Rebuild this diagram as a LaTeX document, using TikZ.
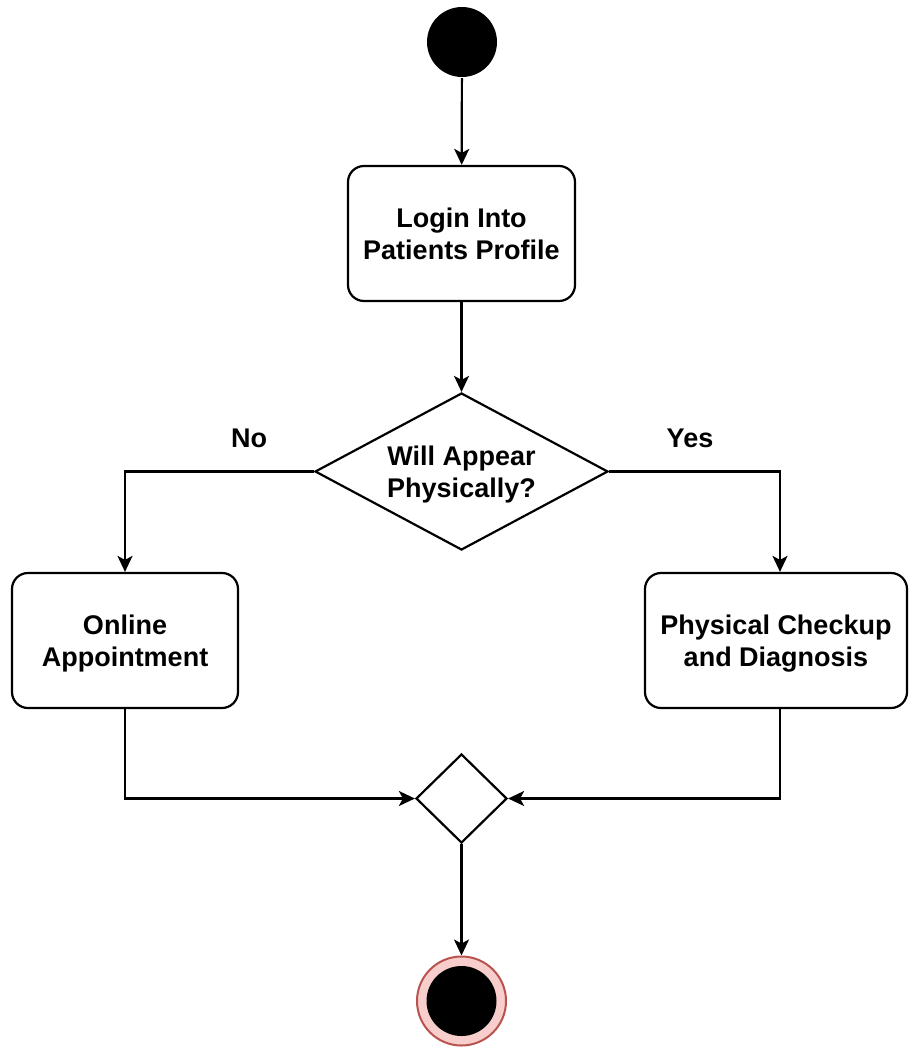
\documentclass[tikz,border=0pt]{standalone}
\usepackage{fontspec}
\setmainfont{Liberation Sans}
\usetikzlibrary{shapes.geometric,arrows.meta}
\definecolor{endfill}{HTML}{F8CECC}
\definecolor{endline}{HTML}{B85450}
\begin{document}
\begin{tikzpicture}[x=1pt,y=-1pt,
  line width=2.2pt,
  font=\fontsize{27}{32}\selectfont\bfseries,
  flow/.style={-{Stealth[length=16pt,width=15pt,inset=4pt]}},
  activity/.style={draw,rounded corners=16pt,align=center,inner sep=0pt,text depth=0pt},
  decision/.style={draw,diamond,inner sep=0pt}]
\useasboundingbox (0,0) rectangle (908,1047);
% initial node
\node[circle,fill=black,minimum size=70pt,inner sep=0pt] (start) at (462,42) {};
% activities
\node[activity,minimum width=227pt,minimum height=135pt] (login) at (461.5,233.5) {Login Into\\Patients Profile};
\node[decision,minimum width=293pt,minimum height=157pt,
      label={[align=center,text depth=0pt]center:Will Appear\\Physically?}] (ask) at (461.5,471.5) {};
\node[activity,minimum width=226pt,minimum height=135pt] (online) at (125,640.5) {Online\\Appointment};
\node[activity,minimum width=262pt,minimum height=135pt] (physical) at (776,640.5) {Physical Checkup\\and Diagnosis};
\node[decision,minimum width=91pt,minimum height=89pt] (merge) at (461.5,798.5) {};
% final node
\node[circle,draw=endline,fill=endfill,line width=2pt,minimum size=89pt,inner sep=0pt] (finish) at (461.5,1001) {};
\node[circle,fill=black,minimum size=70pt,inner sep=0pt] (finishdot) at (finish.center) {};
% branch labels
\node (no) at (249,438) {No};
\node (yes) at (690,438) {Yes};
% connectors
\draw[flow] (start) -- (login);
\draw[flow] (login) -- (ask);
\draw[flow] (ask.west) -| (online.north);
\draw[flow] (ask.east) -| (physical.north -| 780,0);
\draw[flow] (online.south) |- (merge.west);
\draw[flow] (physical.south -| 780,0) |- (merge.east);
\draw[flow] (merge) -- (finish);
\end{tikzpicture}
\end{document}
